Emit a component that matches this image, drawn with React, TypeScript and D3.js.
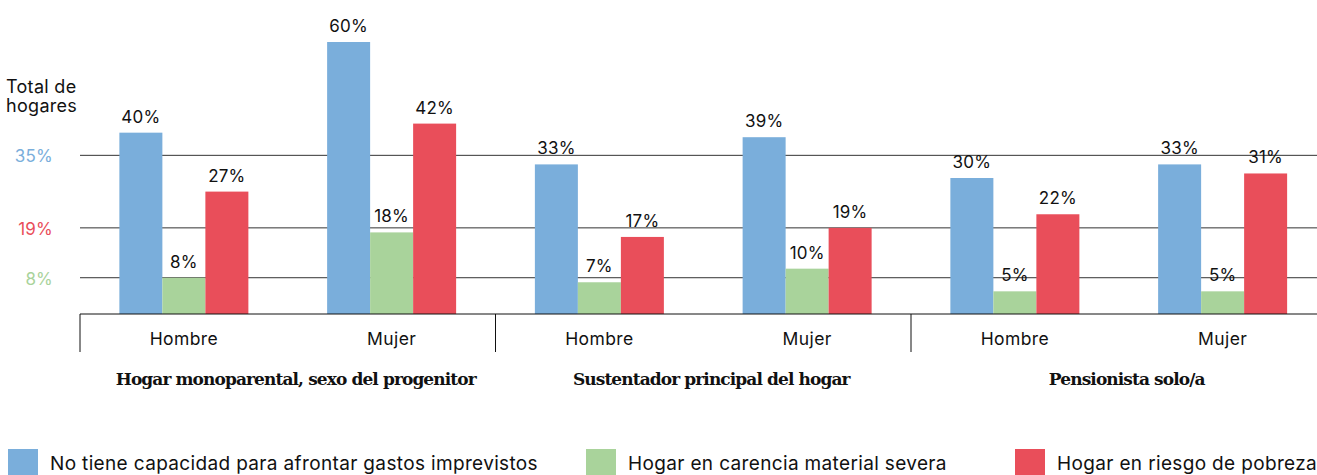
import React from "react";
import * as d3 from "d3";

const panels = [
  "Hogar monoparental, sexo del progenitor",
  "Sustentador principal del hogar",
  "Pensionista solo/a",
];
const sexes = ["Hombre", "Mujer"];
const seriesNames = [
  "No tiene capacidad para afrontar gastos imprevistos",
  "Hogar en carencia material severa",
  "Hogar en riesgo de pobreza",
];
const seriesColors = ["#7aaedb", "#a9d39b", "#e94e5a"];
// values per panel -> [Hombre, Mujer] for each series
const gastosImprevistos = [
  [40, 60],
  [33, 39],
  [30, 33],
];
const carenciaSevera = [
  [8, 18],
  [7, 10],
  [5, 5],
];
const riesgoPobreza = [
  [27, 42],
  [17, 19],
  [22, 31],
];
const totalLabels = [35, 19, 8];
const totalColors = ["#7aaedb", "#e94e5a", "#a9d39b"];

const W = 1317;
const H = 475;
const FONT = "Inter, 'Noto Sans', sans-serif";
const SERIF = "'DejaVu Serif', 'Liberation Serif', serif";

export default function App() {
  const left = 80;
  const panelW = 415.5;
  const baseY = 314;

  const x0 = d3.scaleBand<string>().domain(panels).range([left, left + panelW * 3]).padding(0);
  const x1 = d3.scaleBand<string>().domain(sexes).range([0, panelW]).padding(0);
  const groupW = 129;
  const x2 = d3.scaleBand<string>().domain(seriesNames).range([0, groupW]).padding(0);
  const y = d3.scaleLinear().domain([0, 60]).range([baseY, 42]);

  const allSeries = [gastosImprevistos, carenciaSevera, riesgoPobreza];

  const bars: React.ReactNode[] = [];
  const labels: React.ReactNode[] = [];
  panels.forEach((p, pi) => {
    sexes.forEach((s, si) => {
      const gx = (x0(p) as number) + (x1(s) as number) + x1.bandwidth() / 2 - groupW / 2;
      seriesNames.forEach((sn, k) => {
        const v = allSeries[k][pi][si];
        const bx = gx + (x2(sn) as number);
        bars.push(
          <rect
            key={`b-${pi}-${si}-${k}`}
            x={bx}
            y={y(v)}
            width={x2.bandwidth()}
            height={baseY - y(v)}
            fill={seriesColors[k]}
          />
        );
        labels.push(
          <text
            key={`l-${pi}-${si}-${k}`}
            x={bx + x2.bandwidth() / 2}
            y={y(v) - 10}
            textAnchor="middle"
            fontFamily={FONT}
            fontSize={17}
            letterSpacing={0.2}
            fill="#111"
          >
            {v}%
          </text>
        );
      });
    });
  });

  return (
    <svg
      width={W}
      height={H}
      style={{ position: "absolute", left: 0, top: 0, background: "#fff" }}
    >
      {/* reference lines */}
      {totalLabels.map((v, i) => (
        <g key={`t-${v}`}>
          <line x1={left} x2={W} y1={y(v)} y2={y(v)} stroke="#333" strokeWidth={1} />
          <text
            x={53}
            y={y(v) + 7}
            textAnchor="end"
            fontFamily={FONT}
            fontSize={17}
            letterSpacing={0.2}
            fill={totalColors[i]}
          >
            {v}%
          </text>
        </g>
      ))}
      <text x={6} y={93} fontFamily={FONT} fontSize={18} letterSpacing={0.3} fill="#111">
        Total de
      </text>
      <text x={6} y={112} fontFamily={FONT} fontSize={18} letterSpacing={0.3} fill="#111">
        hogares
      </text>

      {bars}
      {labels}

      {/* axis */}
      <line x1={left} x2={W} y1={baseY} y2={baseY} stroke="#111" strokeWidth={1} />
      {panels.map((p) => (
        <line
          key={`tick-${p}`}
          x1={x0(p) as number}
          x2={x0(p) as number}
          y1={baseY}
          y2={352}
          stroke="#111"
          strokeWidth={1}
        />
      ))}
      {panels.map((p) =>
        sexes.map((s) => (
          <text
            key={`sx-${p}-${s}`}
            x={(x0(p) as number) + (x1(s) as number) + x1.bandwidth() / 2}
            y={345}
            textAnchor="middle"
            fontFamily={FONT}
            fontSize={17.5}
            letterSpacing={0.4}
            fill="#111"
          >
            {s}
          </text>
        ))
      )}
      {panels.map((p) => (
        <text
          key={`pt-${p}`}
          x={(x0(p) as number) + panelW / 2 + 8}
          y={385}
          textAnchor="middle"
          fontFamily={SERIF}
          fontWeight="bold"
          fontSize={17}
          letterSpacing={-0.9}
          fill="#111"
        >
          {p}
        </text>
      ))}

      {/* legend */}
      {seriesNames.map((sn, i) => {
        const lx = [8, 586, 1015][i];
        return (
          <g key={`lg-${i}`}>
            <rect x={lx} y={449} width={30} height={30} fill={seriesColors[i]} />
            <text
              x={lx + 42}
              y={470}
              fontFamily={FONT}
              fontSize={19}
              letterSpacing={0.35}
              fill="#111"
            >
              {sn}
            </text>
          </g>
        );
      })}
    </svg>
  );
}
